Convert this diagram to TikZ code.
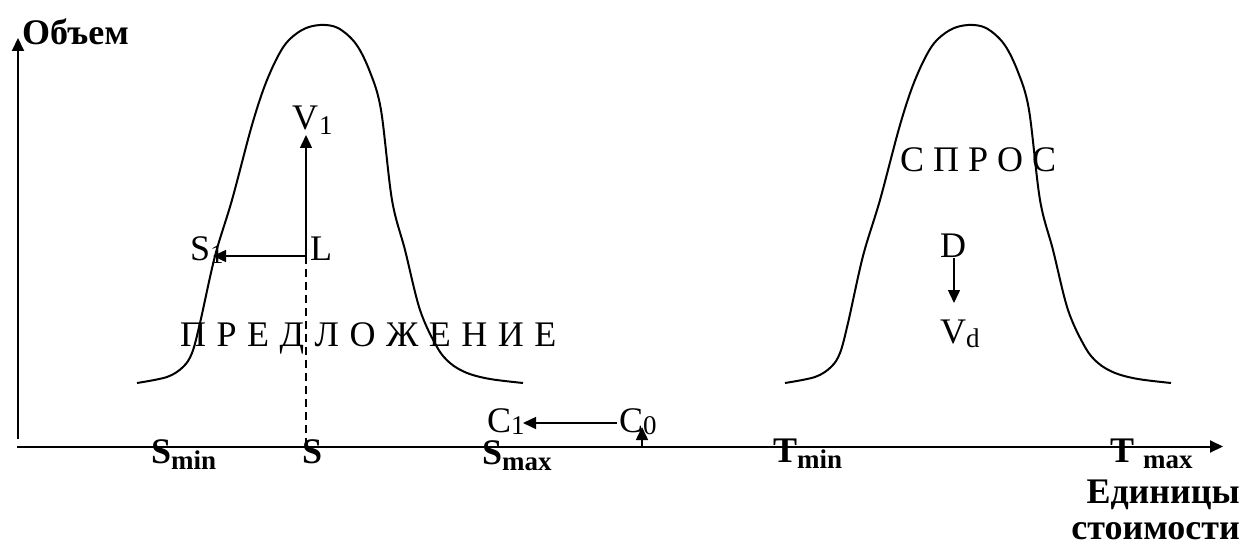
\documentclass[tikz,border=0pt]{standalone}
\usepackage{fontspec}
\setmainfont{Liberation Serif}
\usetikzlibrary{arrows.meta}
\newcommand{\lowsub}[2][6pt]{\raisebox{-#1}{\fontsize{27}{27}\selectfont #2}}
\begin{document}
\begin{tikzpicture}[x=1pt,y=-1pt,
  txt/.style={anchor=base west,inner sep=0pt,font=\fontsize{36}{36}\selectfont},
  btxt/.style={anchor=base west,inner sep=0pt,font=\fontsize{36}{36}\selectfont\bfseries},
  axisline/.style={line width=2pt,-{Triangle[length=13pt,width=12pt]}},
  arr/.style={line width=1.5pt,-{Triangle[length=13pt,width=12pt]}},
  bell/.style={line width=2pt},
  dashline/.style={line width=1.5pt,dash pattern=on 8pt off 5pt}]
\useasboundingbox (0,0) rectangle (1245,548);

% axes
\coordinate (yb) at (18,439);
\coordinate (yt) at (18,38);
\coordinate (xl) at (17,446.5);
\coordinate (xr) at (1223,446.5);
\draw[axisline] (yb) -- (yt);
\draw[axisline] (xl) -- (xr);

% bells
\foreach \dx in {0,648}{
\draw[bell,xshift=\dx] plot[smooth,tension=0.55] coordinates {
 (137,383) (167,377) (183,367) (192,353) (200,323) (215,256) (232,200) (252,125) (267,80) (284,46) (302,30) (320,25) (338,28) (356,44) (370,72) (381,110) (392,200) (405,250) (420,310) (437,347) (450,363) (467,373) (490,379) (523,383)};
}

% axis labels
\node[btxt] (ob) at (22,45) {Объем};
\node[btxt,anchor=base east] (ed) at (1240,503) {Единицы};
\node[btxt,anchor=base east] (st) at (1240,539) {стоимости};

\node[btxt] (smin) at (151,463) {S\lowsub{min}};
\node[btxt] (s) at (302,463) {S};
\node[btxt] (smax) at (482,464) {S\lowsub{max}};
\node[btxt] (tmin) at (773,462) {T\lowsub{min}};
\node[btxt] (tmax) at (1110,462) {T\kern9pt\lowsub{max}};

% supply
\node[txt] (v1) at (292,130) {V\lowsub[5pt]{\kern1pt 1}};
\node[txt] (L) at (310,260) {L};
\node[txt] (s1) at (190,260) {S\lowsub[3pt]{1}};
\coordinate (Lp) at (306,256);
\coordinate (v1p) at (306,135);
\coordinate (s1p) at (213,256);
\coordinate (sp) at (306,446);
\draw[arr] (Lp) -- (v1p);
\draw[arr] (Lp) -- (s1p);
\draw[dashline] (Lp) -- (sp);
\node[txt] (pred) at (180,346) {\spaceskip=10.5pt П Р Е Д Л О Ж Е Н И Е};

% costs
\node[txt] (c1) at (487,432) {C\lowsub[2pt]{1}};
\node[txt] (c0) at (619,432) {C\lowsub[2pt]{0}};
\coordinate (c0p) at (617,423);
\coordinate (c1p) at (523,423);
\coordinate (c0a) at (642,446);
\coordinate (c0b) at (642,427);
\draw[arr] (c0p) -- (c1p);
\draw[arr] (c0a) -- (c0b);

% demand
\node[txt] (spros) at (900,172) {С П Р О С};
\node[txt] (D) at (940,258) {D};
\node[txt] (vd) at (940,343) {V\lowsub[4pt]{d}};
\coordinate (dp) at (954,258);
\coordinate (vdp) at (954,303);
\draw[arr] (dp) -- (vdp);
\end{tikzpicture}
\end{document}
